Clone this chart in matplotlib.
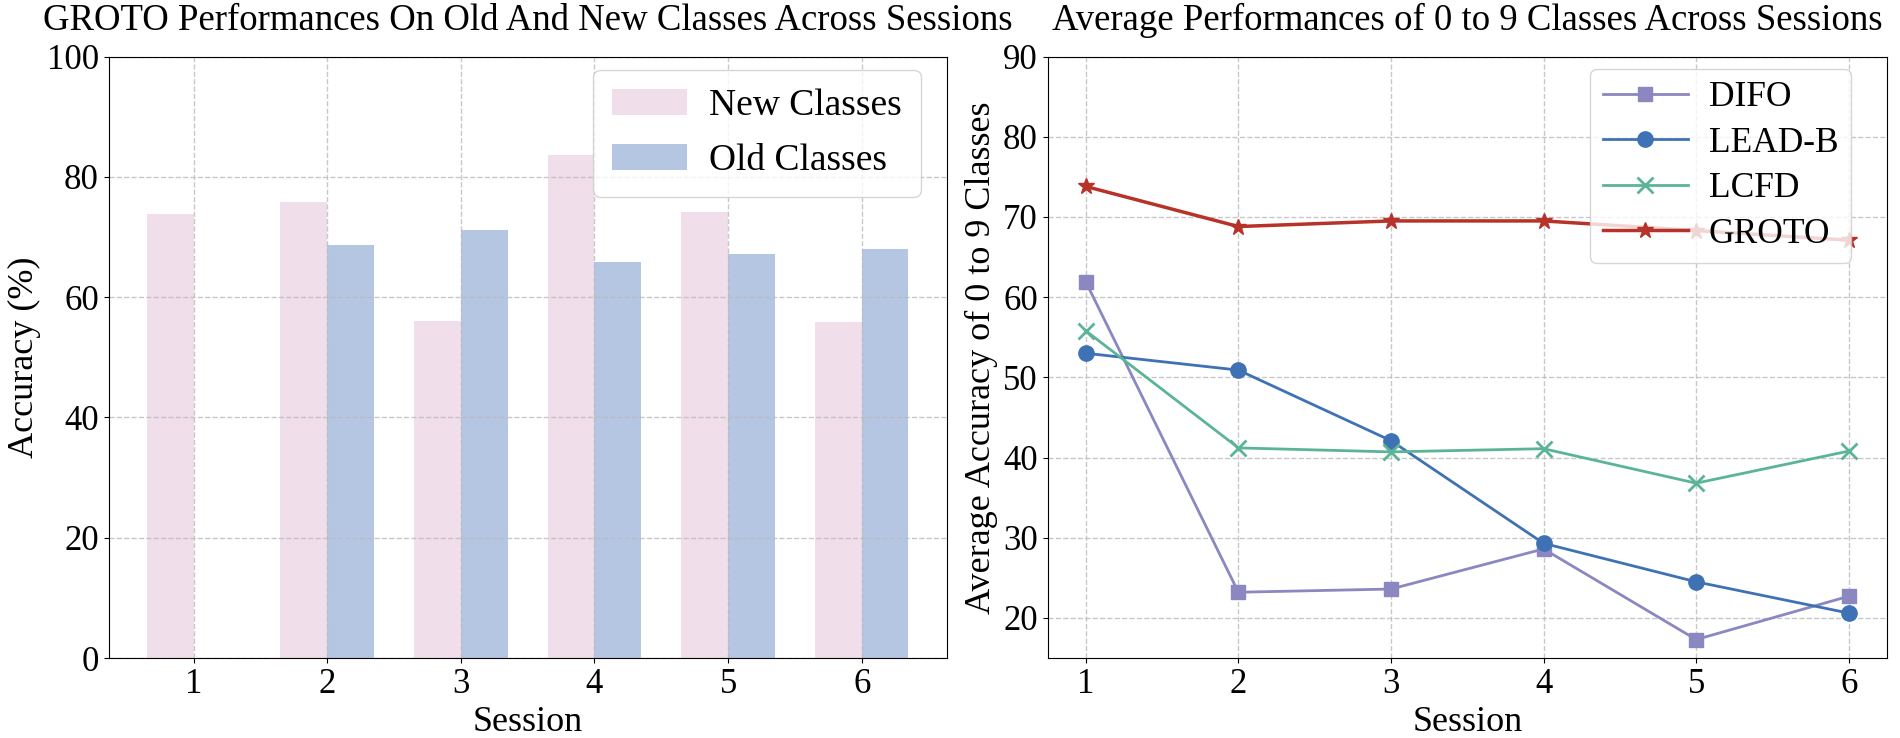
import matplotlib
matplotlib.use("Agg")
import matplotlib.pyplot as plt
import numpy as np

plt.rcParams['font.family'] = ['Liberation Serif', 'DejaVu Serif']

sessions = [1, 2, 3, 4, 5, 6]
new_classes = [73.8, 75.8, 56.0, 83.7, 74.1, 55.8]
old_classes = [np.nan, 68.7, 71.1, 65.9, 67.1, 68.0]

difo = [61.9, 23.2, 23.6, 28.6, 17.3, 22.7]
lead_b = [53.0, 50.9, 42.1, 29.3, 24.5, 20.6]
lcfd = [55.8, 41.2, 40.7, 41.1, 36.8, 40.8]
groto = [73.8, 68.8, 69.5, 69.5, 68.3, 67.1]

fig = plt.figure(figsize=(19, 7.38), dpi=100)
ax1 = fig.add_axes([0.0572, 0.1084, 0.441, 0.815])
ax2 = fig.add_axes([0.5514, 0.1084, 0.4417, 0.815])

x = np.array(sessions, dtype=float)
w = 0.35
ax1.bar(x - w/2, new_classes, w, color='#F0DFEB', label='New Classes')
ax1.bar(x + w/2, old_classes, w, color='#B5C6E3', label='Old Classes')
ax1.set_ylim(0, 100)
ax1.set_xticks(sessions)
ax1.set_yticks([0, 20, 40, 60, 80, 100])
ax1.grid(True, linestyle='--', color='#BBBBBB', alpha=0.8, linewidth=1)
ax1.set_xlabel('Session', fontsize=26)
ax1.set_ylabel('Accuracy (%)', fontsize=26)
ax1.set_title('GROTO Performances On Old And New Classes Across Sessions', fontsize=26.5, pad=19)
ax1.tick_params(labelsize=25)
ax1.legend(loc='upper right', bbox_to_anchor=(0.985, 1.0), fontsize=27, handlelength=2.0,
           borderpad=0.5, labelspacing=0.55, handletextpad=0.6, borderaxespad=0.35)

ax2.plot(sessions, difo, marker='s', color='#8A87C1', lw=2.0, ms=10.5, label='DIFO')
ax2.plot(sessions, lead_b, marker='o', color='#3E72B4', lw=2.0, ms=11, label='LEAD-B')
ax2.plot(sessions, lcfd, marker='x', color='#5BB595', lw=2.0, ms=11, mew=2, label='LCFD')
ax2.plot(sessions, groto, marker='*', color='#B73229', lw=2.5, ms=12, label='GROTO')
ax2.set_ylim(15, 90)
ax2.set_xticks(sessions)
ax2.set_yticks([20, 30, 40, 50, 60, 70, 80, 90])
ax2.grid(True, linestyle='--', color='#BBBBBB', alpha=0.8, linewidth=1)
ax2.set_xlabel('Session', fontsize=26)
ax2.set_ylabel('Average Accuracy of 0 to 9 Classes', fontsize=26)
ax2.set_title('Average Performances of 0 to 9 Classes Across Sessions', fontsize=26.5, pad=19)
ax2.tick_params(labelsize=25)
ax2.legend(loc='upper right', bbox_to_anchor=(0.972, 1.0), fontsize=25.5, handlelength=2.4,
           borderpad=0.35, labelspacing=0.35, handletextpad=0.6, borderaxespad=0.35)

fig.savefig('out.png', dpi=100)
